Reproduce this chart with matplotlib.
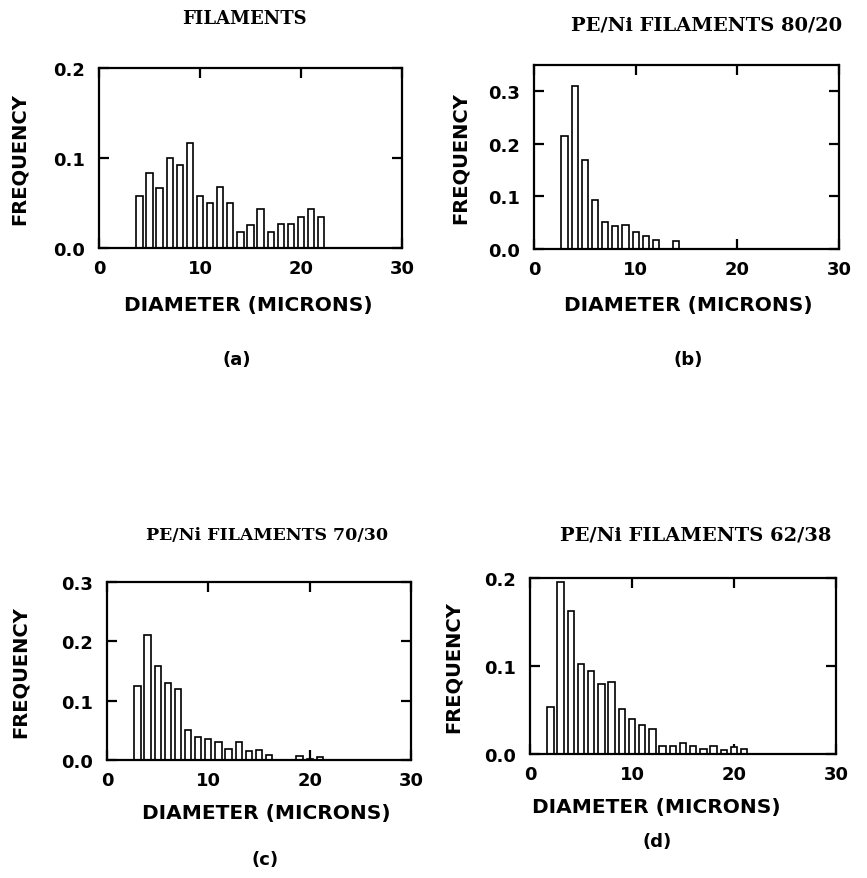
import matplotlib
matplotlib.use("Agg")
import matplotlib.pyplot as plt

# ---- data ----
a_diam = [4, 5, 6, 7, 8, 9, 10, 11, 12, 13, 14, 15, 16, 17, 18, 19, 20, 21, 22]
a_freq = [0.058, 0.083, 0.067, 0.100, 0.092, 0.117, 0.058, 0.050, 0.068, 0.050,
          0.018, 0.026, 0.043, 0.018, 0.027, 0.027, 0.034, 0.043, 0.034]

b_diam = [3, 4, 5, 6, 7, 8, 9, 10, 11, 12, 13, 14]
b_freq = [0.214, 0.310, 0.169, 0.094, 0.052, 0.044, 0.046, 0.032, 0.024, 0.018, 0.0, 0.016]

c_diam = [3, 4, 5, 6, 7, 8, 9, 10, 11, 12, 13, 14, 15, 16, 17, 18, 19, 20, 21]
c_freq = [0.124, 0.211, 0.158, 0.130, 0.120, 0.050, 0.038, 0.036, 0.030, 0.018,
          0.030, 0.016, 0.017, 0.008, 0.0, 0.0, 0.006, 0.002, 0.005]

d_diam = [2, 3, 4, 5, 6, 7, 8, 9, 10, 11, 12, 13, 14, 15, 16, 17, 18, 19, 20, 21]
d_freq = [0.053, 0.195, 0.162, 0.102, 0.094, 0.080, 0.082, 0.051, 0.040, 0.033,
          0.028, 0.009, 0.009, 0.013, 0.009, 0.006, 0.009, 0.004, 0.008, 0.006]

titles = ["FILAMENTS", "PE/Ni FILAMENTS 80/20", "PE/Ni FILAMENTS 70/30", "PE/Ni FILAMENTS 62/38"]
panel_labels = ["(a)", "(b)", "(c)", "(d)"]
x_ticks = [0, 10, 20, 30]
y_ticks_a = [0.0, 0.1, 0.2]
y_ticks_b = [0.0, 0.1, 0.2, 0.3]
y_ticks_c = [0.0, 0.1, 0.2, 0.3]
y_ticks_d = [0.0, 0.1, 0.2]
xlabel = "DIAMETER (MICRONS)"
ylabel = "FREQUENCY"

W, H = 867, 879
fig = plt.figure(figsize=(W / 100, H / 100), dpi=100)
fig.patch.set_facecolor("white")

def fx(px):
    return px / W

def fy(py):
    return 1 - py / H

# axes boxes in pixels: left, top, right, bottom
boxes = [(99, 69, 402, 249), (534, 66, 839, 250), (107, 583, 411, 761), (530, 579, 836, 755)]
data = [(a_diam, a_freq, y_ticks_a, 0.2), (b_diam, b_freq, y_ticks_b, 0.35),
        (c_diam, c_freq, y_ticks_c, 0.3), (d_diam, d_freq, y_ticks_d, 0.2)]
title_pos = [(244, 19), (707, 25), (267, 536), (696, 536)]
title_size = [13, 14, 12.5, 14]
ylab_pos = [(19, 159), (460, 158), (20, 672), (453, 667)]
xlab_pos = [(248, 305), (688, 305), (266, 814), (656, 808)]
plab_pos = [(237, 360), (688, 360), (265, 860), (657, 842)]

sans = "DejaVu Sans"
serif = "DejaVu Serif"

for i, ((l, t, r, b), (xd, yd, yt, ytop)) in enumerate(zip(boxes, data)):
    ax = fig.add_axes([fx(l), fy(b), fx(r - l), (b - t) / H])
    ax.bar(xd, yd, width=0.62, facecolor="white", edgecolor="black", linewidth=1.2, zorder=2)
    ax.set_xlim(0, 30)
    ax.set_ylim(0, ytop)
    ax.set_xticks(x_ticks)
    ax.set_xticklabels([str(v) for v in x_ticks])
    ax.set_yticks(yt)
    ax.set_yticklabels([f"{v:.1f}" for v in yt])
    ax.tick_params(axis="both", direction="in", length=7, width=1.6, top=True, right=True,
                   labelsize=13, colors="black")
    ax.tick_params(axis="x", pad=8)
    ax.tick_params(axis="y", pad=10)
    for lab in ax.get_xticklabels() + ax.get_yticklabels():
        lab.set_fontweight("bold")
        lab.set_fontfamily(sans)
    for sp in ax.spines.values():
        sp.set_linewidth(1.6)
        sp.set_zorder(3)

    tx, ty = title_pos[i]
    fig.text(fx(tx), fy(ty), titles[i], ha="center", va="center", fontsize=title_size[i],
             fontweight="bold", family=serif)
    yx, yy = ylab_pos[i]
    fig.text(fx(yx), fy(yy), ylabel, ha="center", va="center", rotation=90, fontsize=14,
             fontweight="bold", family=sans)
    xx, xy = xlab_pos[i]
    fig.text(fx(xx), fy(xy), xlabel, ha="center", va="center", fontsize=14.5,
             fontweight="bold", family=sans)
    px_, py_ = plab_pos[i]
    fig.text(fx(px_), fy(py_), panel_labels[i], ha="center", va="center", fontsize=13,
             fontweight="bold", family=sans)

fig.savefig("out.png", dpi=100, facecolor="white")
